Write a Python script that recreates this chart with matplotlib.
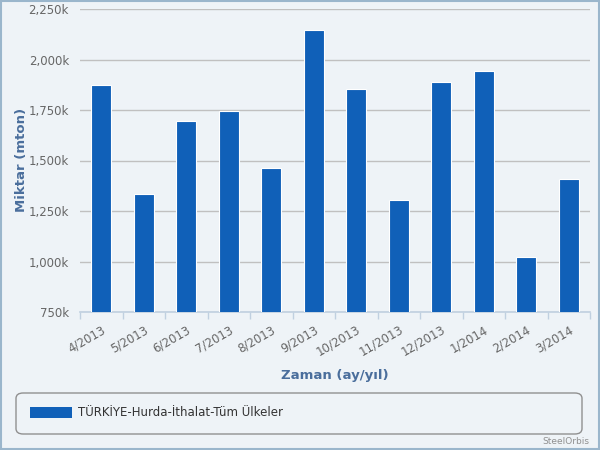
import numpy as np
import matplotlib.pyplot as plt
from matplotlib.patches import FancyBboxPatch, Rectangle
from matplotlib.ticker import FuncFormatter

months = ['4/2013', '5/2013', '6/2013', '7/2013', '8/2013', '9/2013',
          '10/2013', '11/2013', '12/2013', '1/2014', '2/2014', '3/2014']
values = [1874, 1334, 1697, 1746, 1463, 2147, 1855, 1305, 1890, 1944, 1022, 1408]
series_name = 'TÜRKİYE-Hurda-İthalat-Tüm Ülkeler'

bg = '#eef3f7'
bar_color = '#1060b8'
title_color = '#4a6e9c'

fig = plt.figure(figsize=(6, 4.5), dpi=100, facecolor=bg)
fig.patches.append(Rectangle((0.002, 0.002), 0.996, 0.996, transform=fig.transFigure,
                             fill=False, ec='#9ab6cc', lw=1.5))

ax = fig.add_axes([80/600, 1 - 312/450, 510/600, 303/450])
ax.set_facecolor(bg)
x = np.arange(len(months))
ax.bar(x, values, width=0.48, color=bar_color, edgecolor='white', linewidth=0.8, zorder=3)

ax.set_ylim(750, 2250)
ax.set_xlim(-0.5, len(months) - 0.5)
ax.set_yticks(np.arange(750, 2251, 250))
ax.yaxis.set_major_formatter(FuncFormatter(lambda v, p: '{:,.0f}k'.format(v)))
ax.grid(axis='y', color='#c0c0c0', lw=1, zorder=0)
for s in ['top', 'right', 'left']:
    ax.spines[s].set_visible(False)
ax.spines['bottom'].set_color('#c0d0e0')
ax.spines['bottom'].set_linewidth(1.2)
ax.tick_params(axis='y', length=0, labelsize=8.5, colors='#666666', pad=8)

ax.set_xticks(x)
ax.set_xticklabels(months, rotation=30, ha='right', rotation_mode='anchor',
                   fontsize=8.5, color='#666666')
ax.tick_params(axis='x', which='major', length=0, pad=8)
ax.set_xticks(np.arange(-0.5, len(months), 1), minor=True)
ax.tick_params(axis='x', which='minor', length=5, color='#c0d0e0', width=1)

fig.text(22/600, 1 - 160/450, 'Miktar (mton)', fontsize=9.5, fontweight='bold',
         color=title_color, ha='center', va='center', rotation=90)
fig.text(335/600, 1 - 375/450, 'Zaman (ay/yıl)', fontsize=9.5, fontweight='bold',
         color=title_color, ha='center', va='center')

# legend box
fig.patches.append(FancyBboxPatch((16/600, 1 - 434/450), 566/600, 41/450,
                                  boxstyle='round,pad=0,rounding_size=0.012',
                                  transform=fig.transFigure, fc=bg, ec='#909090', lw=1))
fig.patches.append(Rectangle((30/600, 1 - 418/450), 42/600, 11/450,
                             transform=fig.transFigure, fc=bar_color, ec='none'))
fig.text(78/600, 1 - 413/450, series_name, fontsize=8.5, color='#333333',
         ha='left', va='center')
fig.text(589/600, 1 - 441/450, 'SteelOrbis', fontsize=6.5, color='#909090',
         ha='right', va='center')

fig.savefig('out.png', dpi=100, facecolor=bg)
